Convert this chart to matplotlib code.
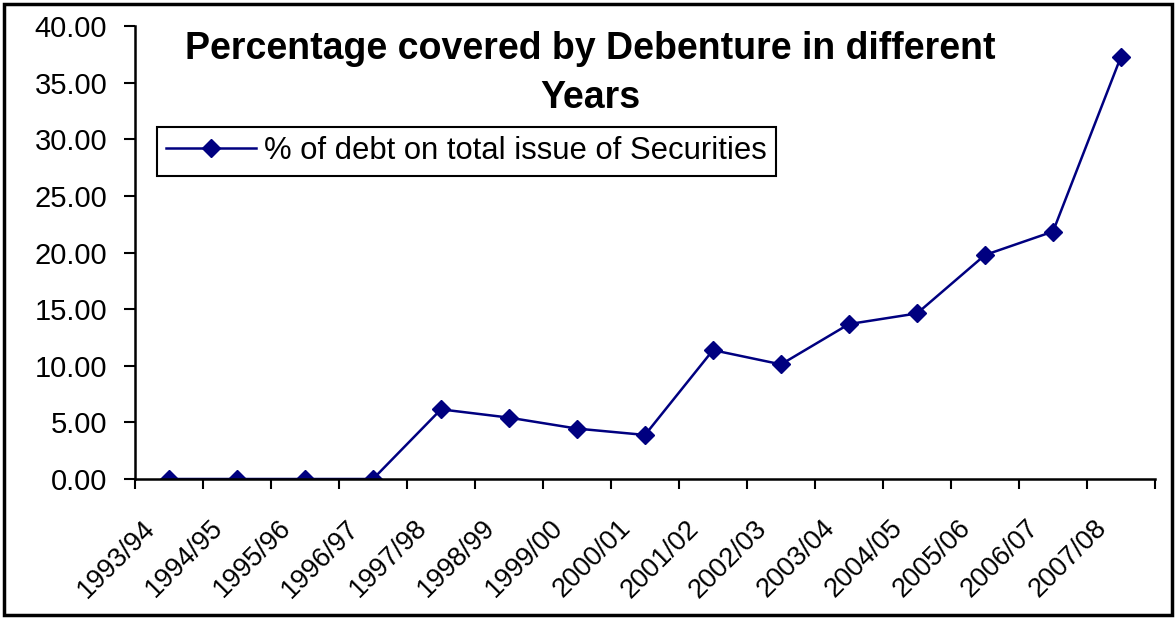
import matplotlib
matplotlib.use("Agg")
import matplotlib.pyplot as plt
from matplotlib.patches import Rectangle
from matplotlib.transforms import ScaledTranslation
import numpy as np

plt.rcParams['font.family'] = ['Liberation Sans', 'DejaVu Sans']

years = ["1993/94", "1994/95", "1995/96", "1996/97", "1997/98", "1998/99", "1999/00",
         "2000/01", "2001/02", "2002/03", "2003/04", "2004/05", "2005/06", "2006/07", "2007/08"]
pct_debt = [0.0, 0.0, 0.0, 0.0, 6.15, 5.42, 4.45, 3.89, 11.38, 10.12, 13.68, 14.62, 19.78, 21.85, 37.3]
series_name = "% of debt on total issue of Securities"
title_text = "Percentage covered by Debenture in different\nYears"

W, H = 1176, 619
fig = plt.figure(figsize=(W / 100, H / 100), dpi=100)
ax = fig.add_axes([135 / W, 1 - 479 / H, (1155 - 135) / W, (479 - 26) / H])

x = np.arange(len(years))
line, = ax.plot(x, pct_debt, color='#000080', lw=1.8, marker='D', markersize=9.5,
                markerfacecolor='#000080', markeredgecolor='#000080', label=series_name)

ax.set_xlim(-0.5, len(years) - 0.5)
ax.set_ylim(0, 40)
ax.set_yticks(np.arange(0, 40.1, 5))
ax.set_yticklabels([f"{v:.2f}" for v in np.arange(0, 40.1, 5)], fontsize=21)
ax.tick_params(axis='y', direction='out', length=8, width=1.5, pad=12)

ax.set_xticks(x)
ax.set_xticklabels(years, rotation=45, ha='right', va='top', fontsize=19.5)
ax.tick_params(axis='x', which='major', length=0, pad=26)
ax.set_xticks(np.arange(-0.5, len(years), 1), minor=True)
ax.tick_params(axis='x', which='minor', direction='out', length=7, width=1.5)
shift = ScaledTranslation(-0.09, 0, fig.dpi_scale_trans)
for lab in ax.get_xticklabels():
    lab.set_transform(lab.get_transform() + shift)

for s in ['top', 'right']:
    ax.spines[s].set_visible(False)
for s in ['left', 'bottom']:
    ax.spines[s].set_linewidth(1.8)
ax.patch.set_alpha(0)

fig.text(590 / W, 1 - 31 / H, title_text, ha='center', va='top', fontsize=27,
         fontweight='bold', linespacing=1.45)

leg = fig.legend(handles=[line], loc='upper left', bbox_to_anchor=(157 / W, 1 - 127 / H),
                 fontsize=22.3, frameon=True, fancybox=False, edgecolor='black',
                 framealpha=1, borderpad=0.3, handlelength=2.9, handletextpad=0.25,
                 borderaxespad=0)
leg.get_frame().set_linewidth(1.5)

fig.patches.append(Rectangle((4 / W, 4 / H), (W - 8) / W, (H - 8) / H, transform=fig.transFigure,
                             fill=False, edgecolor='black', linewidth=2.5))

fig.savefig("out.png", dpi=100)
